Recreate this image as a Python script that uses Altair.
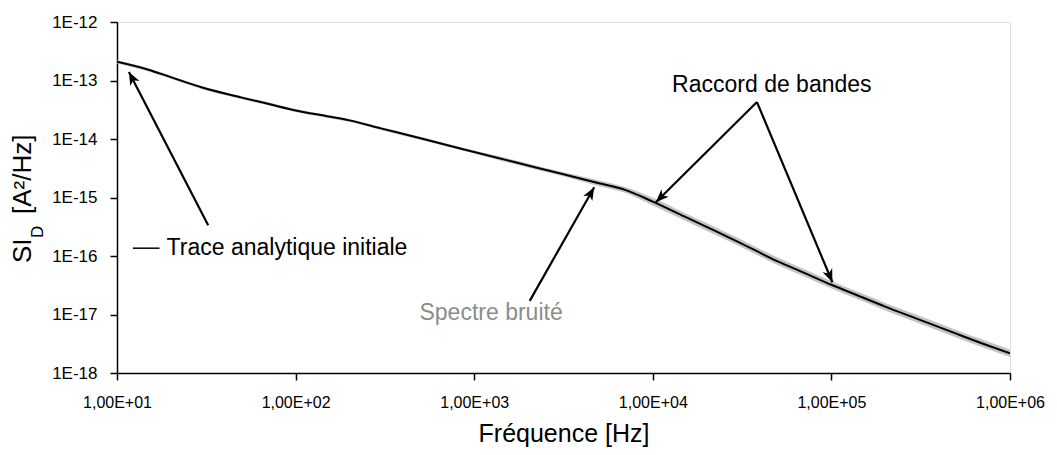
import math
import altair as alt
import pandas as pd

# ---------------- data ----------------
freq = [10, 15, 20, 30, 50, 70, 100, 150, 200, 300, 500, 700,
        1e3, 1.5e3, 2e3, 3e3, 5e3, 7e3, 1e4, 1.5e4, 2e4, 3e4, 5e4, 7e4,
        1e5, 1.5e5, 2e5, 3e5, 5e5, 7e5, 1e6]
trace_analytique = [2.09e-13, 1.53e-13, 1.14e-13, 7.6e-14, 5.1e-14, 4.0e-14,
                    3.08e-14, 2.45e-14, 2.08e-14, 1.52e-14, 1.03e-14, 7.9e-15,
                    6.0e-15, 4.4e-15, 3.53e-15, 2.59e-15, 1.75e-15, 1.35e-15,
                    8.5e-16, 4.75e-16, 3.14e-16, 1.75e-16, 8.1e-17, 5.2e-17,
                    3.22e-17, 1.95e-17, 1.36e-17, 8.5e-18, 4.7e-18, 3.2e-18, 2.17e-18]
# noisy spectrum: lower / upper envelope of the grey band
spectre_bas = [1.95e-13, 1.43e-13, 1.07e-13, 7.1e-14, 4.8e-14, 3.76e-14,
               2.9e-14, 2.3e-14, 1.95e-14, 1.43e-14, 9.7e-15, 7.45e-15,
               5.65e-15, 4.06e-15, 3.26e-15, 2.39e-15, 1.56e-15, 1.2e-15,
               7.3e-16, 4.1e-16, 2.7e-16, 1.51e-16, 7.0e-17, 4.5e-17,
               2.77e-17, 1.68e-17, 1.17e-17, 7.3e-18, 4.05e-18, 2.76e-18, 1.87e-18]
spectre_haut = [2.21e-13, 1.62e-13, 1.21e-13, 8.0e-14, 5.4e-14, 4.24e-14,
                3.26e-14, 2.59e-14, 2.2e-14, 1.61e-14, 1.09e-14, 8.4e-15,
                6.35e-15, 4.77e-15, 3.83e-15, 2.81e-15, 1.96e-15, 1.51e-15,
                9.9e-16, 5.5e-16, 3.65e-16, 2.03e-16, 9.4e-17, 6.0e-17,
                3.74e-17, 2.26e-17, 1.58e-17, 9.9e-18, 5.45e-18, 3.72e-18, 2.52e-18]

x_ticks = [10, 100, 1e3, 1e4, 1e5, 1e6]
y_ticks = [1e-18, 1e-17, 1e-16, 1e-15, 1e-14, 1e-13, 1e-12]

# arrows: tail (x, y) -> tip (x, y), in data units
arrow_tail_x = [32.4, 2046, 38300, 38300]
arrow_tail_y = [3.37e-16, 1.71e-17, 4.28e-14, 4.28e-14]
arrow_tip_x = [11.66, 4699, 10400, 101300]
arrow_tip_y = [1.40e-13, 1.50e-15, 8.32e-16, 3.56e-17]

# annotation texts
ann_text = ["Raccord de bandes", "Spectre bruité"]
ann_x = [46400, 1243]
ann_y = [8.35e-14, 1.05e-17]
ann_color = ["#000000", "#8c8c8c"]

legend_label = "Trace analytique initiale"
legend_line_x = [12.27, 17.3]
legend_y = 1.36e-16
legend_text_x = 18.95

# ---------------- chart ----------------
W, H = 893, 351
FONT = "Liberation Sans"
X_DOM = [10, 1e6]
Y_DOM = [1e-18, 1e-12]


def px(v):
    return W * (math.log10(v) - math.log10(X_DOM[0])) / (math.log10(X_DOM[1]) - math.log10(X_DOM[0]))


def py(v):
    return H * (math.log10(Y_DOM[1]) - math.log10(v)) / (math.log10(Y_DOM[1]) - math.log10(Y_DOM[0]))


xs = alt.Scale(type="log", domain=X_DOM, nice=False)
ys = alt.Scale(type="log", domain=Y_DOM, nice=False)

series = pd.DataFrame({"f": freq, "trace": trace_analytique,
                       "bas": spectre_bas, "haut": spectre_haut})

x_axis = alt.Axis(values=x_ticks, grid=False, domainColor="black", domainWidth=1.5,
                  tickColor="black", tickWidth=1.5, tickSize=7, labelFlush=False,
                  labelFont=FONT, labelFontSize=16, labelColor="black", labelPadding=14,
                  labelExpr="'1,00E+' + (round(log(datum.value)/LN10) < 10 ? '0' : '') + round(log(datum.value)/LN10)",
                  title="Fréquence [Hz]", titleFont=FONT, titleFontSize=25,
                  titleFontWeight="normal", titleColor="black", titlePadding=11)
y_axis = alt.Axis(values=y_ticks, grid=False, domainColor="black", domainWidth=1.5,
                  tickColor="black", tickWidth=1.5, tickSize=7, labelFlush=False,
                  labelFont=FONT, labelFontSize=17, labelColor="black", labelPadding=13,
                  labelExpr="'1E' + round(log(datum.value)/LN10)", title=None)

gray = alt.Chart(series).mark_area(color="#c4c4c4", opacity=1, interpolate="monotone", clip=True).encode(
    x=alt.X("f:Q", scale=xs, axis=x_axis),
    y=alt.Y("bas:Q", scale=ys, axis=y_axis),
    y2="haut:Q",
)
black = alt.Chart(series).mark_line(color="black", strokeWidth=2, interpolate="monotone", clip=True).encode(
    x=alt.X("f:Q", scale=xs),
    y=alt.Y("trace:Q", scale=ys),
)

angles = []
for tx, ty, hx, hy in zip(arrow_tail_x, arrow_tail_y, arrow_tip_x, arrow_tip_y):
    dx = px(hx) - px(tx)
    dy = py(hy) - py(ty)
    angles.append(math.degrees(math.atan2(dx, -dy)) % 360)

arrows = pd.DataFrame({"x": arrow_tail_x, "y": arrow_tail_y,
                       "x2": arrow_tip_x, "y2": arrow_tip_y, "angle": angles})

shafts = alt.Chart(arrows).mark_rule(color="black", strokeWidth=2.2).encode(
    x=alt.X("x:Q", scale=xs), y=alt.Y("y:Q", scale=ys),
    x2="x2:Q", y2="y2:Q",
)
heads = alt.Chart(arrows).mark_point(
    shape="M0,0 L0.8,2 L0,1.45 L-0.8,2 Z", filled=True, color="black",
    opacity=1, size=169, strokeWidth=0,
).encode(
    x=alt.X("x2:Q", scale=xs), y=alt.Y("y2:Q", scale=ys),
    angle=alt.Angle("angle:Q", scale=None),
)

ann = pd.DataFrame({"t": ann_text, "x": ann_x, "y": ann_y, "c": ann_color})
ann_marks = alt.Chart(ann).mark_text(font=FONT, fontSize=23, align="center",
                                     baseline="middle").encode(
    x=alt.X("x:Q", scale=xs), y=alt.Y("y:Q", scale=ys), text="t:N",
    color=alt.Color("c:N", scale=None),
)

leg_line = alt.Chart(pd.DataFrame({"x": [legend_line_x[0]], "x2": [legend_line_x[1]],
                                   "y": [legend_y]})).mark_rule(color="black", strokeWidth=1.5).encode(
    x=alt.X("x:Q", scale=xs), x2="x2:Q", y=alt.Y("y:Q", scale=ys))
leg_text = alt.Chart(pd.DataFrame({"x": [legend_text_x], "y": [legend_y], "t": [legend_label]})).mark_text(
    font=FONT, fontSize=23, align="left", baseline="middle", color="black").encode(
    x=alt.X("x:Q", scale=xs), y=alt.Y("y:Q", scale=ys), text="t:N")

# y-axis title with subscript, drawn as rotated text pieces
ytitle = pd.DataFrame({"t": ["SI", "D", "[A²/Hz]"],
                       "px": [31 - 117, 43 - 117, 31 - 117],
                       "py": [263 - 22, 238 - 22, 214 - 22],
                       "fs": [26, 17, 26]})
ytitle_marks = alt.Chart(ytitle).mark_text(font=FONT, angle=270, align="left",
                                          baseline="alphabetic", color="black").encode(
    x=alt.X("px:Q", scale=None), y=alt.Y("py:Q", scale=None), text="t:N",
    size=alt.Size("fs:Q", scale=None),
)

chart = alt.layer(gray, black, shafts, heads, ann_marks, leg_line, leg_text, ytitle_marks).properties(
    width=W, height=H,
    autosize=alt.AutoSizeParams(type="none"),
    padding={"left": 109, "top": 14, "right": 39, "bottom": 74},
).configure_view(stroke=None).configure(background="white")

chart.save("out.html", embed_options={"renderer": "svg", "actions": False})
